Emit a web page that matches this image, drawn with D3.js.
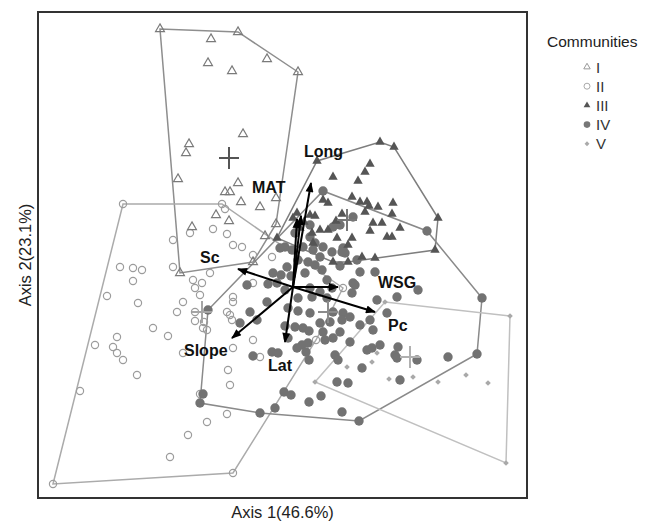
<!DOCTYPE html>
<html><head><meta charset="utf-8">
<script src="https://cdn.jsdelivr.net/npm/d3@7"></script>
<style>body{margin:0;background:#fff}svg{display:block}text{font-family:"Liberation Sans",Arial,sans-serif}</style>
</head><body>
<svg id="c" width="651" height="523"></svg>
<script>
const communities = ["I","II","III","IV","V"];
const axisTitles = ["Axis 1(46.6%)","Axis 2(23.1%)"];
const legendTitle = "Communities";

const commI = [[-1.33,2.58],[-0.55,2.55],[-0.82,2.48],[-0.85,2.24],[-0.61,2.16],[-0.26,2.28],[0.05,2.15],[-0.50,1.53],[-1.04,1.43],[-1.07,1.34],[-1.15,1.08],[-0.55,1.04],[-0.68,0.95],[-0.63,0.95],[-0.52,0.85],[-0.33,0.80],[-0.17,0.89],[-0.77,0.72],[-0.64,0.66],[-1.01,0.60],[-0.17,0.63],[-0.28,0.51],[-0.40,0.25],[-1.13,0.14]];

const commII = [[-1.70,0.83],[-0.71,0.83],[-0.68,0.78],[-0.80,0.58],[-0.66,0.53],[-0.60,0.42],[-0.51,0.40],[-1.03,0.54],[-1.20,0.47],[-1.73,0.20],[-1.60,0.19],[-1.51,0.17],[-1.20,0.20],[-1.60,0.06],[-1.86,-0.09],[-1.55,-0.16],[-1.00,0.07],[-0.91,0.04],[-0.83,0.14],[-0.98,-0.01],[-0.93,-0.08],[-1.10,-0.15],[-1.16,-0.25],[-0.98,-0.25],[-0.98,-0.34],[-0.89,-0.35],[-0.90,-0.41],[-0.86,-0.43],[-1.40,-0.41],[-1.25,-0.49],[-1.76,-0.50],[-1.98,-0.58],[-1.80,-0.60],[-1.76,-0.66],[-1.70,-0.73],[-1.56,-0.88],[-2.13,-1.04],[-1.10,-0.66],[-0.93,-1.07],[-0.86,-1.35],[-0.66,-1.27],[-1.05,-1.48],[-1.23,-1.70],[-2.40,-1.97],[-0.60,-1.86],[-0.63,-0.98],[-0.65,-0.83],[-0.60,-0.61],[-0.40,-0.53],[-0.66,-0.25],[-0.63,-0.28],[-0.61,-0.33],[-0.60,-0.10],[-0.60,-0.15],[-0.21,0.30],[-0.40,0.32],[-0.40,0.04],[0.50,-0.01],[0.23,-0.53],[-0.33,-0.70]];

const commIII = [[0.24,1.26],[0.87,1.45],[1.01,1.40],[0.77,1.23],[0.72,1.15],[0.65,1.06],[0.40,1.10],[0.30,0.87],[0.35,0.84],[0.59,0.90],[0.67,0.85],[0.74,0.85],[0.76,0.81],[0.85,0.80],[1.00,0.84],[0.72,0.75],[0.99,0.73],[1.45,0.69],[0.43,0.66],[0.80,0.64],[0.89,0.64],[1.07,0.59],[0.35,0.57],[0.44,0.49],[0.59,0.49],[0.77,0.56],[0.94,0.50],[0.99,0.50],[1.42,0.37],[0.69,0.30],[0.82,0.29],[0.55,0.25],[0.40,0.25],[0.04,0.74],[0.17,0.72],[0.22,0.71],[0.11,0.65],[0.07,0.59],[0.20,0.44],[0.27,0.57],[0.55,0.42],[-0.16,0.49],[0.19,0.54],[0.49,0.73],[0.00,0.69]];

const commIV = [[0.30,0.96],[1.34,0.56],[0.60,0.70],[0.40,0.60],[0.47,0.62],[0.30,0.40],[0.50,0.39],[0.52,0.34],[0.02,0.54],[0.17,0.50],[0.22,0.44],[0.10,0.40],[0.05,0.27],[0.15,0.25],[0.22,0.22],[0.29,0.17],[0.12,0.14],[0.34,0.07],[0.49,0.35],[0.64,0.27],[0.67,0.15],[0.60,0.04],[0.39,-0.01],[0.17,0.62],[-0.08,0.40],[-0.01,0.37],[-0.13,0.39],[0.20,0.37],[0.27,0.30],[-0.06,0.20],[0.39,0.35],[0.47,0.21],
[-0.20,0.14],[-0.12,0.12],[-0.02,0.11],[-0.46,0.02],[-0.25,0.03],[-0.16,0.04],[-0.08,-0.03],[0.17,-0.01],[0.27,-0.05],[0.05,-0.11],[0.19,-0.10],[0.34,-0.11],[-0.43,-0.25],[-0.26,-0.15],[-0.05,-0.21],[0.05,-0.24],[0.17,-0.26],[-0.53,-0.36],[-0.36,-0.33],[-0.08,-0.39],[0.02,-0.40],[0.10,-0.41],[0.16,-0.44],[0.27,-0.36],[0.37,-0.35],[-0.05,-0.51],[0.09,-0.58],[0.15,-0.56],[0.32,-0.53],[0.40,-0.51],[-0.40,-0.69],[-0.21,-0.65],[-0.15,-0.66],[0.04,-0.61],[0.16,-0.73],[0.13,-0.65],
[0.62,0.02],[0.82,0.15],[1.04,-0.10],[1.25,-0.03],[0.59,-0.06],[0.84,-0.13],[0.94,-0.26],[0.77,-0.33],[0.67,-0.38],[0.80,-0.43],[0.50,-0.26],[0.57,-0.30],[0.49,-0.33],[0.40,-0.25],[0.47,-0.45],[0.57,-0.55],[0.30,-0.45],[0.42,-0.68],[0.45,-0.73],[0.74,-0.63],[0.79,-0.61],[0.87,-0.58],[1.05,-0.60],[1.02,-0.68],[1.04,-0.71],[1.24,-0.73],[1.55,-0.70],[1.84,-0.67],[1.89,-0.11],[0.69,-0.81],[0.44,-0.95],[0.55,-0.96],[1.07,-0.93],
[-0.93,-1.16],[-0.90,-1.07],[-0.33,-1.26],[-0.18,-1.21],[-0.09,-1.05],[-0.02,-1.08],[0.16,-1.15],[0.28,-1.09],[0.49,-1.25],[0.66,-1.34],[-0.85,-0.23]];

const commV = [[2.17,-0.29],[2.13,-1.76],[1.95,-0.96],[1.73,-0.88],[1.45,-0.95],[1.20,-0.90],[0.96,-0.92],[0.79,-0.75],[0.54,-0.80],[0.92,-0.15],[0.22,-0.95],[0.84,-0.66]];

const centroids = [[-0.64,1.29],[-0.91,-0.25],[0.54,0.67],[0.35,-0.25],[1.17,-0.70]];

const vectorNames = ["Long","MAT","","Sc","Slope","Lat","WSG","Pc"];
const vectorTips = [[0.18,1.04],[0.08,0.71],[0.04,0.68],[-0.55,0.18],[-0.61,-0.51],[-0.08,-0.55],[0.45,0.00],[0.82,-0.25]];
const labelAnchors = [[0.11,1.30],[-0.41,0.94],null,[-0.93,0.24],[-1.09,-0.69],[-0.25,-0.84],[0.85,-0.01],[0.95,-0.44]];

const groups = [commI, commII, commIII, commIV, commV];

const mLeft = 38, mRight = 527, mTop = 12, mBottom = 498;
const x = d3.scaleLinear().domain([-2.55, 2.34]).range([mLeft, mRight]);
const y = d3.scaleLinear().domain([-2.11, 2.75]).range([mBottom, mTop]);

const svg = d3.select("#c");

const hullColor = ["#8e8e8e","#ababab","#7e7e7e","#8a8a8a","#c0c0c0"];
const crossColor = ["#555","#a5a5a5","#777","#8c8c8c","#b0b0b0"];

const hullG = svg.append("g");
groups.forEach((g,i) => {
  const pts = g.map(d => [x(d[0]), y(d[1])]);
  const hull = d3.polygonHull(pts);
  hullG.append("path")
    .attr("d", "M" + hull.map(p => p.join(",")).join("L") + "Z")
    .attr("fill","none").attr("stroke",hullColor[i]).attr("stroke-width",1.5);
});

const tri = d3.symbol().type(d3.symbolTriangle);
const sq = d3.symbol().type(d3.symbolSquare);

function drawGroup(i, sel) {
  const g = groups[i];
  if (i === 0) {
    sel.selectAll("path").data(g).join("path")
      .attr("d", tri.size(34)()).attr("transform", d=>`translate(${x(d[0])},${y(d[1])})`)
      .attr("fill","none").attr("stroke","#7a7a7a").attr("stroke-width",1.2);
  } else if (i === 1) {
    sel.selectAll("circle").data(g).join("circle")
      .attr("cx", d=>x(d[0])).attr("cy", d=>y(d[1])).attr("r",3.6)
      .attr("fill","none").attr("stroke","#9c9c9c").attr("stroke-width",1.2);
  } else if (i === 2) {
    sel.selectAll("path").data(g).join("path")
      .attr("d", tri.size(38)()).attr("transform", d=>`translate(${x(d[0])},${y(d[1])})`)
      .attr("fill","#555");
  } else if (i === 3) {
    sel.selectAll("circle").data(g).join("circle")
      .attr("cx", d=>x(d[0])).attr("cy", d=>y(d[1])).attr("r",4.7)
      .attr("fill","#727272");
  } else {
    sel.selectAll("path").data(g).join("path")
      .attr("d", sq.size(16)()).attr("transform", d=>`translate(${x(d[0])},${y(d[1])}) rotate(45)`)
      .attr("fill","#a9a9a9");
  }
}
[1,0,3,2,4].forEach(i => drawGroup(i, svg.append("g")));

centroids.forEach((c,i) => {
  const cx = x(c[0]), cy = y(c[1]);
  const g = svg.append("g").attr("stroke",crossColor[i]).attr("stroke-width",2);
  g.append("line").attr("x1",cx-10).attr("x2",cx+10).attr("y1",cy).attr("y2",cy);
  g.append("line").attr("x1",cx).attr("x2",cx).attr("y1",cy-11).attr("y2",cy+11);
});

svg.append("defs").append("marker").attr("id","ah")
  .attr("viewBox","0 0 10 8").attr("refX",9).attr("refY",4)
  .attr("markerWidth",12).attr("markerHeight",8).attr("markerUnits","userSpaceOnUse")
  .attr("orient","auto")
  .append("path").attr("d","M0,0L10,4L0,8Z").attr("fill","#000");
vectorTips.forEach(t => {
  svg.append("line").attr("x1",x(0)).attr("y1",y(0)).attr("x2",x(t[0])).attr("y2",y(t[1]))
    .attr("stroke","#000").attr("stroke-width",2).attr("marker-end","url(#ah)");
});
vectorNames.forEach((n,i) => {
  if (!n) return;
  const a = labelAnchors[i];
  svg.append("text").attr("x",x(a[0])).attr("y",y(a[1])).text(n)
    .attr("font-size",16).attr("font-weight","bold").attr("fill","#111");
});

svg.append("rect").attr("x",mLeft).attr("y",mTop).attr("width",mRight-mLeft).attr("height",mBottom-mTop)
  .attr("fill","none").attr("stroke","#333").attr("stroke-width",2);

svg.append("text").attr("x",(mLeft+mRight)/2).attr("y",518).attr("text-anchor","middle")
  .attr("font-size",16.5).attr("fill","#222").text(axisTitles[0]);
svg.append("text").attr("transform",`translate(31,${(mTop+mBottom)/2}) rotate(-90)`).attr("text-anchor","middle")
  .attr("font-size",16.5).attr("fill","#222").text(axisTitles[1]);

svg.append("text").attr("x",547).attr("y",47).attr("font-size",15.5).attr("fill","#222").text(legendTitle);
communities.forEach((c,i) => {
  const ly = 67 + i*19.2;
  const lx = 587;
  let s;
  if (i === 0) s = svg.append("path").attr("d", tri.size(18)()).attr("fill","none").attr("stroke","#999").attr("stroke-width",1);
  else if (i === 1) s = svg.append("circle").attr("r",3).attr("fill","none").attr("stroke","#aaa").attr("stroke-width",1);
  else if (i === 2) s = svg.append("path").attr("d", tri.size(20)()).attr("fill","#555");
  else if (i === 3) s = svg.append("circle").attr("r",3.3).attr("fill","#777");
  else s = svg.append("path").attr("d", sq.size(12)()).attr("fill","#aaa");
  if (i === 4) s.attr("transform",`translate(${lx},${ly}) rotate(45)`);
  else s.attr("transform",`translate(${lx},${ly})`);
  svg.append("text").attr("x",596).attr("y",ly+5.5).attr("font-size",15).attr("fill","#333").text(c);
});
</script>
</body></html>
